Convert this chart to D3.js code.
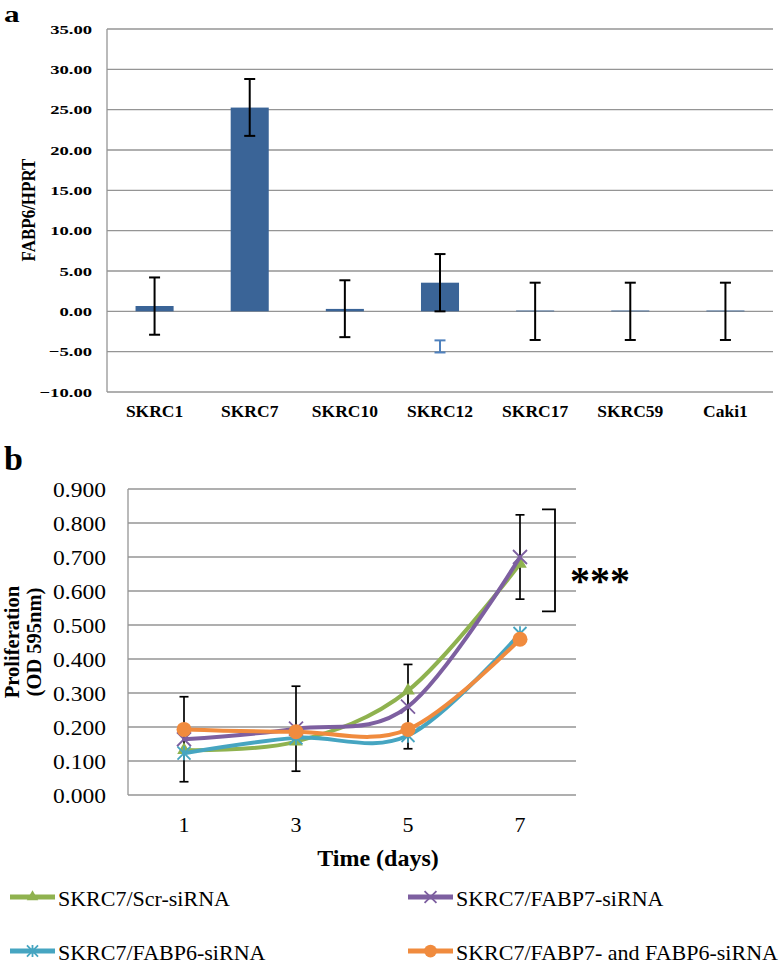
<!DOCTYPE html>
<html>
<head>
<meta charset="utf-8">
<script src="https://cdn.jsdelivr.net/npm/d3@7"></script>
<style>
  html, body { margin: 0; padding: 0; background: #fff; }
  svg { display: block; }
  text { font-family: "Liberation Serif", "Times New Roman", serif; fill: #000; }
</style>
</head>
<body>
<svg id="chart" width="784" height="975"></svg>
<script>
// ---------- Panel a data ----------
const categoriesA = ["SKRC1", "SKRC7", "SKRC10", "SKRC12", "SKRC17", "SKRC59", "Caki1"];
const valuesA     = [0.66, 25.26, 0.3, 3.55, 0.1, 0.1, 0.1];
const errHighA    = [4.2, 28.8, 3.85, 7.1, 3.55, 3.55, 3.55];
const errLowA     = [-2.9, 21.75, -3.2, 0.0, -3.55, -3.55, -3.55];
const strayCatA   = ["SKRC12"];
const strayHighA  = [-3.6];
const strayLowA   = [-5.1];
const ticksA      = [35, 30, 25, 20, 15, 10, 5, 0, -5, -10];

// ---------- Panel b data ----------
const days     = ["1", "3", "5", "7"];
const seriesNames = ["SKRC7/Scr-siRNA", "SKRC7/FABP7-siRNA", "SKRC7/FABP6-siRNA", "SKRC7/FABP7- and FABP6-siRNA"];
const scrVals   = [0.132, 0.157, 0.307, 0.68];
const fabp7Vals = [0.164, 0.195, 0.26, 0.70];
const fabp6Vals = [0.123, 0.168, 0.175, 0.475];
const bothVals  = [0.193, 0.186, 0.193, 0.458];
const errB      = [0.125, 0.125, 0.124, 0.124];
const ticksB    = [0, 0.1, 0.2, 0.3, 0.4, 0.5, 0.6, 0.7, 0.8, 0.9];
const bracketB  = [0.54, 0.84];

const svg = d3.select("#chart");
const grid = "#959595";

// ================= Panel a =================
const xA = d3.scaleBand().domain(categoriesA).range([107, 773]).paddingInner(0.6).paddingOuter(0.3);
const yA = d3.scaleLinear().domain([-10, 35]).range([392, 29]);
const sxA = 1.38;

const gA = svg.append("g");
gA.selectAll("line.grid").data(ticksA).join("line")
  .attr("x1", 107).attr("x2", 773)
  .attr("y1", d => yA(d)).attr("y2", d => yA(d))
  .attr("stroke", grid).attr("stroke-width", 1.3);
gA.append("line").attr("x1", 107).attr("x2", 107).attr("y1", yA(35)).attr("y2", yA(-10))
  .attr("stroke", grid).attr("stroke-width", 1.3);

gA.selectAll("text.tick").data(ticksA).join("text")
  .attr("transform", d => `translate(92,${yA(d) + 4.8}) scale(${sxA},1)`)
  .attr("text-anchor", "end").attr("font-size", 13.5).attr("font-weight", "bold")
  .text(d => d3.format(".2f")(d));

gA.selectAll("text.cat").data(categoriesA).join("text")
  .attr("x", d => xA(d) + xA.bandwidth() / 2).attr("y", 417)
  .attr("text-anchor", "middle").attr("font-size", 17.5).attr("font-weight", "bold")
  .text(d => d);

gA.selectAll("rect.bar").data(categoriesA).join("rect")
  .attr("x", d => xA(d)).attr("width", xA.bandwidth())
  .attr("y", (d, i) => yA(Math.max(0, valuesA[i])))
  .attr("height", (d, i) => Math.abs(yA(valuesA[i]) - yA(0)))
  .attr("fill", "#3A6497");

function errBar(g, cx, yTop, yBot, w, color, sw) {
  sw = sw || 1.8;
  g.append("line").attr("x1", cx).attr("x2", cx).attr("y1", yTop).attr("y2", yBot)
    .attr("stroke", color).attr("stroke-width", sw);
  g.append("line").attr("x1", cx - w / 2).attr("x2", cx + w / 2).attr("y1", yTop).attr("y2", yTop)
    .attr("stroke", color).attr("stroke-width", sw);
  g.append("line").attr("x1", cx - w / 2).attr("x2", cx + w / 2).attr("y1", yBot).attr("y2", yBot)
    .attr("stroke", color).attr("stroke-width", sw);
}
categoriesA.forEach((c, i) => {
  errBar(gA, xA(c) + xA.bandwidth() / 2, yA(errHighA[i]), yA(errLowA[i]), 11, "#000", 2);
});
strayCatA.forEach((c, i) => {
  errBar(gA, xA(c) + xA.bandwidth() / 2, yA(strayHighA[i]), yA(strayLowA[i]), 11, "#4F81BD", 2);
});

gA.append("text").attr("transform", "translate(35,210) scale(1.15,1) rotate(-90)")
  .attr("text-anchor", "middle").attr("font-size", 17).attr("font-weight", "bold")
  .text("FABP6/HPRT");

svg.append("text").attr("transform", "translate(4,22) scale(1.3,1)")
  .attr("font-size", 24).attr("font-weight", "bold").text("a");

// ================= Panel b =================
const xB = d3.scalePoint().domain(days).range([128, 576]).padding(0.5);
const yB = d3.scaleLinear().domain([0, 0.9]).range([795, 489]);
const gB = svg.append("g");

gB.selectAll("line.grid").data(ticksB).join("line")
  .attr("x1", 128).attr("x2", 576)
  .attr("y1", d => yB(d)).attr("y2", d => yB(d))
  .attr("stroke", grid).attr("stroke-width", 1.3);
gB.append("line").attr("x1", 128).attr("x2", 128).attr("y1", yB(0.9)).attr("y2", yB(0))
  .attr("stroke", grid).attr("stroke-width", 1.3);

gB.selectAll("text.tick").data(ticksB).join("text")
  .attr("transform", d => `translate(106,${yB(d) + 7.5}) scale(1.07,1)`)
  .attr("text-anchor", "end").attr("font-size", 22)
  .text(d => d3.format(".3f")(d));

gB.selectAll("text.xt").data(days).join("text")
  .attr("x", d => xB(d)).attr("y", 832)
  .attr("text-anchor", "middle").attr("font-size", 22)
  .text(d => d);

gB.append("text").attr("x", 378).attr("y", 866).attr("text-anchor", "middle")
  .attr("font-size", 24).attr("font-weight", "bold").text("Time (days)");

gB.append("text").attr("transform", "translate(19,642) rotate(-90)")
  .attr("text-anchor", "middle").attr("font-size", 20.5).attr("font-weight", "bold").text("Proliferation");
gB.append("text").attr("transform", "translate(41,642) rotate(-90)")
  .attr("text-anchor", "middle").attr("font-size", 20.5).attr("font-weight", "bold").text("(OD 595nm)");

svg.append("text").attr("x", 4).attr("y", 470).attr("font-size", 34).attr("font-weight", "bold").text("b");

// error bars (on FABP7-siRNA series)
days.forEach((d, i) => {
  errBar(gB, xB(d), yB(fabp7Vals[i] + errB[i]), yB(fabp7Vals[i] - errB[i]), 9, "#000", 1.7);
});

const colors = ["#8FB24F", "#7D5FA0", "#46A5C1", "#F08B3E"];
const allVals = [scrVals, fabp7Vals, fabp6Vals, bothVals];
const markers = ["tri", "x", "star", "circle"];

const lineGen = d3.line().x((v, i) => xB(days[i])).y(v => yB(v)).curve(d3.curveCardinal.tension(0));

function drawMarker(g, type, cx, cy, color, s) {
  s = s || 1;
  if (type === "tri") {
    g.append("path").attr("d", d3.symbol(d3.symbolTriangle, 80 * s * s)())
      .attr("transform", `translate(${cx},${cy})`).attr("fill", color);
  } else if (type === "x") {
    const r = 7 * s;
    g.append("path").attr("d", `M${cx - r},${cy - r}L${cx + r},${cy + r}M${cx - r},${cy + r}L${cx + r},${cy - r}`)
      .attr("stroke", color).attr("stroke-width", 1.8).attr("fill", "none");
  } else if (type === "star") {
    const r = 6.5 * s;
    g.append("path").attr("d", `M${cx - r},${cy - r}L${cx + r},${cy + r}M${cx - r},${cy + r}L${cx + r},${cy - r}M${cx},${cy - r * 1.1}L${cx},${cy + r * 1.1}`)
      .attr("stroke", color).attr("stroke-width", 1.8).attr("fill", "none");
  } else {
    g.append("circle").attr("cx", cx).attr("cy", cy).attr("r", 7.5 * s).attr("fill", color);
  }
}

allVals.forEach((vals, k) => {
  gB.append("path").attr("d", lineGen(vals)).attr("fill", "none")
    .attr("stroke", colors[k]).attr("stroke-width", 4).attr("stroke-linecap", "round");
  vals.forEach((v, i) => drawMarker(gB, markers[k], xB(days[i]), yB(v), colors[k]));
});

// significance bracket
const bx = xB("7") + 35;
gB.append("path")
  .attr("d", `M${bx - 13},${yB(bracketB[1])}L${bx},${yB(bracketB[1])}L${bx},${yB(bracketB[0])}L${bx - 13},${yB(bracketB[0])}`)
  .attr("fill", "none").attr("stroke", "#000").attr("stroke-width", 1.8);
gB.append("text").attr("x", bx + 15).attr("y", (yB(bracketB[0]) + yB(bracketB[1])) / 2 + 34)
  .attr("font-size", 40).attr("font-weight", "bold").text("***");

// legend
const legendPos = [[10, 897], [408, 897], [10, 951], [408, 951]];
seriesNames.forEach((name, k) => {
  const [lx, ly] = legendPos[k];
  const lg = svg.append("g");
  lg.append("line").attr("x1", lx).attr("x2", lx + 45).attr("y1", ly).attr("y2", ly)
    .attr("stroke", colors[k]).attr("stroke-width", 5);
  drawMarker(lg, markers[k], lx + 22.5, ly, colors[k], 0.85);
  lg.append("text").attr("x", lx + 48).attr("y", ly + 9).attr("font-size", 22).text(name);
});
</script>
</body>
</html>
